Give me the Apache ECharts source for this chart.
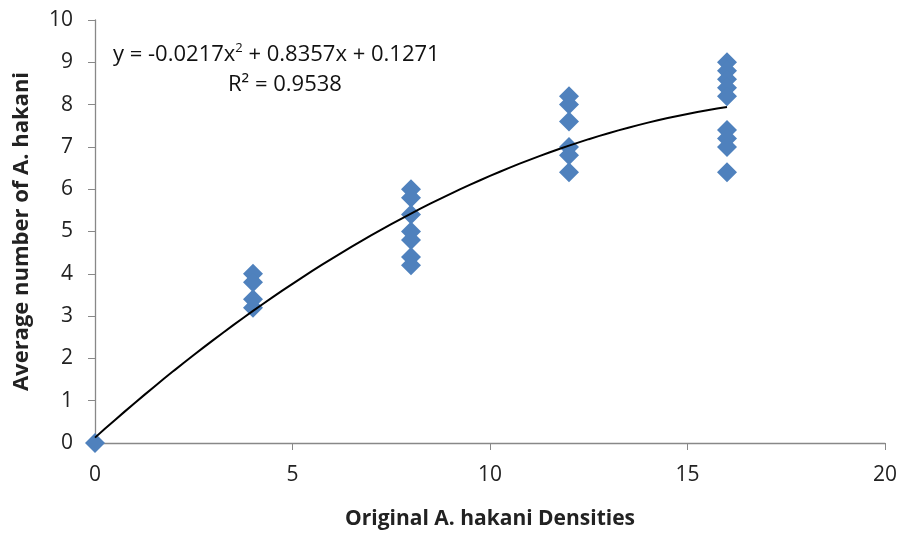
<!DOCTYPE html>
<html><head><meta charset="utf-8">
<script src="https://cdn.jsdelivr.net/npm/echarts@6/dist/echarts.min.js"></script>
<style>html,body{margin:0;padding:0;background:#fff}#c{width:901px;height:534px}</style>
</head><body><div id="c"></div>
<script>
const densities = [0, 4,4,4,4, 8,8,8,8,8,8,8, 12,12,12,12,12,12, 16,16,16,16,16,16,16,16,16];
const averages  = [0, 4.0,3.8,3.4,3.2, 6.0,5.8,5.4,5.0,4.8,4.4,4.2, 8.2,8.0,7.6,7.0,6.8,6.4, 9.0,8.8,8.6,8.4,8.2,7.4,7.2,7.0,6.4];
const coef = {a:-0.0217, b:0.8357, c:0.1271};
const trendX = [];
for (let i = 0; i <= 64; i++) trendX.push(i * 0.25);
const trendPts = trendX.map(x => [x, coef.a*x*x + coef.b*x + coef.c]);
const pts = densities.map((d,i)=>[d, averages[i]]);
const F = '"Open Sans", "Liberation Sans", sans-serif';
const chart = echarts.init(document.getElementById('c'));
chart.setOption({
  animation:false,
  grid:{left:95, right:16, top:20, bottom:91, containLabel:false, outerBoundsMode:'none'},
  xAxis:{type:'value', min:0, max:20, interval:5,
    name:'Original A. hakani Densities', nameLocation:'middle', nameGap:66,
    nameTextStyle:{fontFamily:F, fontSize:21, fontWeight:'bold', color:'#222'},
    axisLine:{lineStyle:{color:'#888', width:1.3}},
    axisTick:{show:true, length:7, lineStyle:{color:'#888'}},
    axisLabel:{fontFamily:F, fontSize:21, color:'#222', margin:22},
    splitLine:{show:false}},
  yAxis:{type:'value', min:0, max:10, interval:1,
    name:'Average number of A. hakani', nameLocation:'middle', nameGap:62, nameRotate:90,
    nameTextStyle:{fontFamily:F, fontSize:22, fontWeight:'bold', color:'#222'},
    axisLine:{show:true, lineStyle:{color:'#888', width:1.3}},
    axisTick:{show:true, length:7, lineStyle:{color:'#888'}},
    axisLabel:{fontFamily:F, fontSize:21, color:'#222', margin:22},
    splitLine:{show:false}},
  graphic:[
    {type:'text', left:113, top:42, style:{
      text:'{n|y = -0.0217x}{s|2}{n| + 0.8357x + 0.1271}',
      rich:{n:{fontFamily:F, fontSize:22, fill:'#111'}, s:{fontFamily:F, fontSize:13, fill:'#111', verticalAlign:'top', padding:[0,0,12,0]}}}},
    {type:'text', left:228, top:74, style:{
      text:'{n|R² = 0.9538}',
      rich:{n:{fontFamily:F, fontSize:22, fill:'#111'}}}}
  ],
  series:[
    {type:'line', data:trendPts, showSymbol:false, smooth:false,
     lineStyle:{color:'#000', width:2}, z:3},
    {type:'scatter', data:pts, symbol:'diamond', symbolSize:20,
     itemStyle:{color:'#4F81BD', opacity:1}, z:2}
  ]
});
</script></body></html>
